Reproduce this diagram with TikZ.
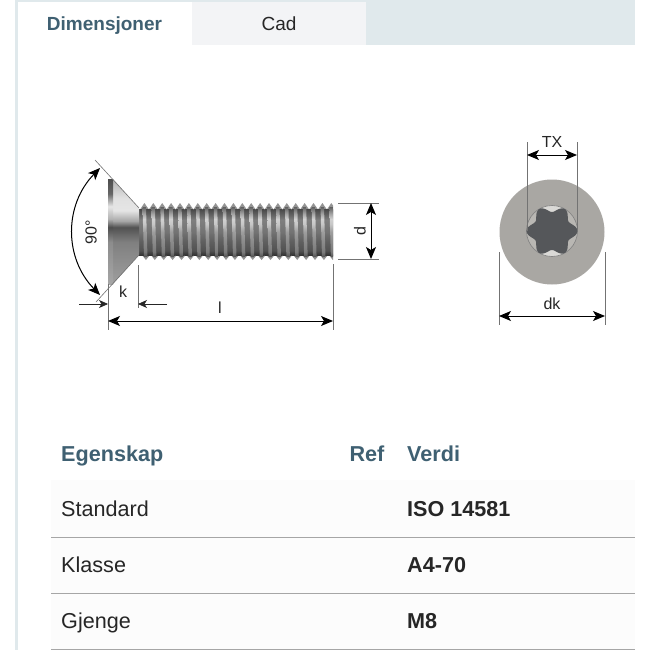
\documentclass[tikz,border=0pt]{standalone}
\usepackage{fontspec}
\setmainfont{Liberation Sans}
\usetikzlibrary{arrows.meta}
\definecolor{bandblue}{HTML}{E0E9EC}
\definecolor{headblue}{HTML}{3F6072}
\definecolor{tabgrey}{HTML}{F3F4F6}
\definecolor{rowgrey}{HTML}{FCFCFC}
\definecolor{inktext}{HTML}{262626}
\definecolor{facegrey}{HTML}{A9A7A3}
\definecolor{starfill}{HTML}{55575A}
\definecolor{wellgrey}{HTML}{B9B7B3}
\definecolor{welllight}{HTML}{DAD9D6}
\pgfdeclareverticalshading{coneshade}{100bp}{color(0bp)=(black!38);
	color(25bp)=(black!38); color(45bp)=(black!50); color(52bp)=(black!68); color(55bp)=(black!35);
	color(60bp)=(black!10); color(66bp)=(black!12); color(75bp)=(black!30); color(100bp)=(black!30)}
\pgfdeclareverticalshading{stripshade}{100bp}{color(0bp)=(black!35);
	color(25bp)=(black!35); color(45bp)=(black!45); color(52bp)=(black!70); color(56bp)=(black!30);
	color(62bp)=(black!10); color(68bp)=(black!60); color(75bp)=(black!70); color(100bp)=(black!70)}
\pgfdeclareverticalshading{crestshade}{100bp}{color(0bp)=(black!68);
	color(25bp)=(black!68); color(30bp)=(black!52); color(41bp)=(black!45); color(50bp)=(black!38);
	color(58bp)=(black!22); color(63bp)=(black!18); color(68bp)=(black!35); color(75bp)=(black!62); color(100bp)=(black!62)}
\pgfdeclareverticalshading{rootshade}{100bp}{color(0bp)=(black!80);
	color(25bp)=(black!80); color(30bp)=(black!68); color(41bp)=(black!62); color(50bp)=(black!55);
	color(58bp)=(black!52); color(63bp)=(black!50); color(68bp)=(black!60); color(75bp)=(black!72); color(100bp)=(black!72)}
\tikzset{
	dimline/.style={line width=1pt,color=black,{Stealth[length=12pt,width=10pt,inset=3pt]}-{Stealth[length=12pt,width=10pt,inset=3pt]}},
	halfdim/.style={line width=0.7pt,color=black!85,-{Stealth[length=9pt,width=8pt,inset=2.5pt]}},
	extline/.style={line width=0.6pt,color=black!55},
	dimtext/.style={font=\fontsize{16}{16}\selectfont,text=inktext,inner sep=0pt},
	tabtext/.style={font=\fontsize{19}{19}\selectfont,inner sep=0pt,anchor=base},
	headtext/.style={font=\fontsize{21.6}{22}\selectfont\bfseries,text=headblue,inner sep=0pt,anchor=base west},
	celltext/.style={font=\fontsize{21.6}{22}\selectfont,text=inktext,inner sep=0pt,anchor=base west},
	valuetext/.style={celltext,font=\fontsize{21.6}{22}\selectfont\bfseries}
}
\begin{document}
\begin{tikzpicture}[x=1pt,y=-1pt]
	\useasboundingbox (0,0) rectangle (650,650);
	\fill[white] (0,0) rectangle (650,650);
	% page frame and tabs
	\fill[bandblue] (15,0) rectangle (635,45);
	\fill[bandblue] (15,0) rectangle (18,650);
	\fill[white] (18,2) rectangle (192,46);
	\fill[tabgrey] (192,2) rectangle (366,45);
	\node[tabtext,font=\fontsize{19}{19}\selectfont\bfseries,text=headblue] (tabdim) at (104.5,31) {Dimensjoner};
	\node[tabtext,text=inktext] (tabcad) at (279,31) {Cad};
	% screw shank
	\begin{scope}
	\clip (138,200) rectangle (333,262);
	\foreach \i in {0,1,...,21}{
		\pgfmathsetmacro{\xa}{140+8.9*\i}
		\fill[black!42] (\xa,209.5) -- (\xa+4.4,203) -- (\xa+8.9,209.5) -- cycle;
		\fill[black!42] (\xa+1.5,254.5) -- (\xa+5.9,260) -- (\xa+10.4,254.5) -- cycle;
		\shade[shading=rootshade] (\xa,209) rectangle (\xa+8.9,255);
		\shade[shading=crestshade] (\xa+2.5,207) -- (\xa+6,207) -- (\xa+7.5,257) -- (\xa+4,257) -- cycle;
	}
	\shade[shading=rootshade] (138,209) rectangle (141,255);
	\end{scope}
	% screw head
	\shade[shading=coneshade] (113,179) -- (139,208) -- (139,255) -- (113,284) -- cycle;
	\shade[shading=stripshade] (108,179) rectangle (113,284);
	% head dimensions
	\coordinate (capA) at (95,160);
	\coordinate (capB) at (139,208);
	\coordinate (capC) at (96,302);
	\coordinate (capD) at (139,255);
	\draw[extline] (capA) -- (capB);
	\draw[extline] (capC) -- (capD);
	\coordinate (arcA) at (100,168);
	\coordinate (arcB) at (100,295);
	\draw[dimline] (arcA) .. controls (64,205) and (64,258) .. (arcB);
	\node[dimtext,rotate=90] (angle) at (91,232) {90°};
	\coordinate (kA) at (108,284);
	\coordinate (kB) at (108,330);
	\draw[extline] (kA) -- (kB);
	\coordinate (kC) at (138,265);
	\coordinate (kD) at (138,308);
	\draw[extline] (kC) -- (kD);
	\coordinate (kE) at (79,304);
	\coordinate (kF) at (108,304);
	\coordinate (kG) at (167,304);
	\coordinate (kH) at (138,304);
	\draw[halfdim] (kE) -- (kF);
	\draw[halfdim] (kG) -- (kH);
	\node[dimtext] (klabel) at (123,292) {k};
	\coordinate (lA) at (333,264);
	\coordinate (lB) at (333,330);
	\draw[extline] (lA) -- (lB);
	\coordinate (lC) at (108,321);
	\coordinate (lD) at (333,321);
	\draw[dimline] (lC) -- (lD);
	\node[dimtext] (llabel) at (220,308) {l};
	\coordinate (dA) at (338,203);
	\coordinate (dB) at (379,203);
	\coordinate (dC) at (338,259);
	\coordinate (dD) at (379,259);
	\draw[extline] (dA) -- (dB);
	\draw[extline] (dC) -- (dD);
	\coordinate (dE) at (371,203);
	\coordinate (dF) at (371,259);
	\draw[dimline] (dE) -- (dF);
	\node[dimtext,rotate=90] (dlabel) at (360,231) {d};
	% head seen from the end
	\fill[facegrey] (552,232) circle (52.5);
	\fill[wellgrey] (552,231) circle (25.5);
	\foreach \a in {60,240} \fill[welllight] (552,231) -- ++(\a:25.5) arc (\a:\a+60:25.5) -- cycle;
	\draw[line width=0.6pt,color=black!50] (552,231) circle (25.5);
	\fill[starfill,smooth,samples=121,domain=0:360] plot ({552+(19+6.4*pow(cos(3*\x),2))*cos(\x)},{231+(19+6.4*pow(cos(3*\x),2))*sin(\x)}) -- cycle;
	\coordinate (txA) at (527,142);
	\coordinate (txB) at (527,231);
	\coordinate (txC) at (577,142);
	\coordinate (txD) at (577,231);
	\draw[extline] (txA) -- (txB);
	\draw[extline] (txC) -- (txD);
	\coordinate (txE) at (527,155);
	\coordinate (txF) at (577,155);
	\draw[dimline] (txE) -- (txF);
	\node[dimtext] (txlabel) at (552,142) {TX};
	\coordinate (dkA) at (499,252);
	\coordinate (dkB) at (499,325);
	\coordinate (dkC) at (605,252);
	\coordinate (dkD) at (605,325);
	\draw[extline] (dkA) -- (dkB);
	\draw[extline] (dkC) -- (dkD);
	\coordinate (dkE) at (499,316);
	\coordinate (dkF) at (605,316);
	\draw[dimline] (dkE) -- (dkF);
	\node[dimtext] (dklabel) at (552,304) {dk};
	% table
	\fill[rowgrey] (51,480) rectangle (635,650);
	\foreach \y in {537,593,649} \draw[line width=0.8pt,color=black!35] (51,\y) -- (635,\y);
	\node[headtext] (egenskap) at (61,461.5) {Egenskap};
	\node[headtext,anchor=base east] (ref) at (384.5,461.5) {Ref};
	\node[headtext] (verdi) at (407,461.5) {Verdi};
	\node[celltext] (standard) at (61,516) {Standard};
	\node[valuetext] (iso) at (407,516) {ISO 14581};
	\node[celltext] (klasse) at (61,572) {Klasse};
	\node[valuetext] (a4) at (407,572) {A4-70};
	\node[celltext] (gjenge) at (61,628) {Gjenge};
	\node[valuetext] (m8) at (407,628) {M8};
\end{tikzpicture}
\end{document}
